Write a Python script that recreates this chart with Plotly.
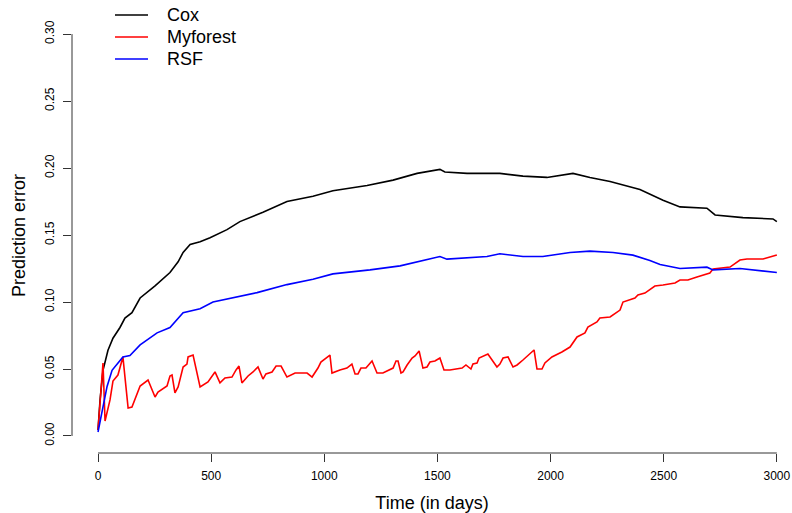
import plotly.graph_objects as go

# ---- data ----
cox_days = [0, 9, 22, 44, 66, 97, 119, 150, 186, 252, 318, 354, 376, 407, 451, 495, 570, 627,
            729, 835, 950, 1038, 1189, 1304, 1410, 1511, 1533, 1631, 1776, 1878, 1984, 2099,
            2174, 2263, 2395, 2497, 2572, 2691, 2727, 2850, 2983, 3000]
cox_err = [0.0045, 0.027, 0.049, 0.064, 0.073, 0.081, 0.088, 0.092, 0.103, 0.112, 0.122, 0.130,
           0.137, 0.143, 0.145, 0.148, 0.154, 0.160, 0.167, 0.175, 0.179, 0.183, 0.187, 0.191,
           0.196, 0.199, 0.197, 0.196, 0.196, 0.194, 0.193, 0.196, 0.193, 0.190, 0.184, 0.176,
           0.171, 0.170, 0.165, 0.163, 0.162, 0.160]

rsf_days = [0, 18, 40, 62, 84, 110, 141, 186, 261, 318, 376, 451, 508, 597, 703, 835, 950, 1038,
            1202, 1335, 1454, 1511, 1542, 1657, 1719, 1776, 1878, 1966, 2086, 2174, 2276, 2364,
            2439, 2484, 2572, 2691, 2718, 2837, 3000]
rsf_err = [0.003, 0.019, 0.037, 0.049, 0.054, 0.059, 0.060, 0.068, 0.077, 0.081, 0.092, 0.095,
           0.100, 0.103, 0.107, 0.113, 0.117, 0.121, 0.124, 0.127, 0.132, 0.134, 0.132, 0.133,
           0.134, 0.136, 0.134, 0.134, 0.137, 0.138, 0.137, 0.135, 0.131, 0.128, 0.125, 0.126,
           0.124, 0.125, 0.122]

myf_days = [0, 9, 22, 31, 53, 66, 88, 110, 133, 150, 186, 221, 252, 265, 305, 318, 327, 340, 354,
            376, 393, 398, 420, 451, 486, 517, 539, 561, 592, 610, 623, 636, 663, 685, 707, 729,
            742, 769, 787, 809, 835, 871, 924, 946, 972, 985, 1003, 1025, 1034, 1069, 1100, 1122,
            1136, 1149, 1162, 1184, 1211, 1233, 1259, 1277, 1304, 1317, 1326, 1339, 1348, 1366,
            1388, 1401, 1419, 1436, 1454, 1467, 1489, 1511, 1529, 1555, 1609, 1626, 1648, 1657,
            1675, 1684, 1710, 1723, 1763, 1776, 1790, 1812, 1834, 1852, 1878, 1927, 1940, 1962,
            1975, 2006, 2050, 2086, 2117, 2152, 2165, 2205, 2218, 2263, 2307, 2320, 2373, 2386,
            2417, 2439, 2461, 2497, 2550, 2572, 2607, 2647, 2674, 2704, 2718, 2793, 2837, 2868,
            2939, 3000]
myf_err = [0.0045, 0.0246, 0.0545, 0.0112, 0.0269, 0.0410, 0.0455, 0.0590, 0.0209, 0.0216,
           0.0373, 0.0418, 0.0291, 0.0328, 0.0373, 0.0448, 0.0455, 0.0321, 0.0366, 0.0515,
           0.0537, 0.0590, 0.0604, 0.0366, 0.0403, 0.0478, 0.0396, 0.0433, 0.0440, 0.0493,
           0.0522, 0.0396, 0.0448, 0.0478, 0.0515, 0.0425, 0.0463, 0.0478, 0.0522, 0.0522,
           0.0440, 0.0470, 0.0470, 0.0440, 0.0507, 0.0552, 0.0575, 0.0604, 0.0470, 0.0493,
           0.0507, 0.0537, 0.0463, 0.0463, 0.0507, 0.0507, 0.0560, 0.0470, 0.0470, 0.0485,
           0.0507, 0.0560, 0.0560, 0.0470, 0.0478, 0.0530, 0.0582, 0.0597, 0.0634, 0.0507,
           0.0515, 0.0552, 0.0560, 0.0582, 0.0493, 0.0493, 0.0507, 0.0530, 0.0500, 0.0537,
           0.0545, 0.0582, 0.0604, 0.0612, 0.0515, 0.0537, 0.0582, 0.0590, 0.0515, 0.0530,
           0.0567, 0.0642, 0.0500, 0.0500, 0.0545, 0.0590, 0.0627, 0.0664, 0.0739, 0.0769,
           0.0813, 0.0851, 0.0881, 0.0888, 0.0940, 0.1000, 0.1030, 0.1052, 0.1067, 0.1090,
           0.1119, 0.1127, 0.1142, 0.1164, 0.1164, 0.1187, 0.1201, 0.1216, 0.1246, 0.1261,
           0.1313, 0.1321, 0.1321, 0.1351]

x_ticks = [0, 500, 1000, 1500, 2000, 2500, 3000]
y_ticks = [0.00, 0.05, 0.10, 0.15, 0.20, 0.25, 0.30]
y_tick_text = ["0.00", "0.05", "0.10", "0.15", "0.20", "0.25", "0.30"]

series_names = ["Cox", "Myforest", "RSF"]
series_colors = ["#000000", "#ff0000", "#0000ff"]

FONT = "Liberation Sans, Arial, Helvetica, sans-serif"
AXC = "#333333"

fig = go.Figure()
for name, xs, ys, col in [("Cox", cox_days, cox_err, series_colors[0]),
                          ("Myforest", myf_days, myf_err, series_colors[1]),
                          ("RSF", rsf_days, rsf_err, series_colors[2])]:
    fig.add_trace(go.Scatter(x=xs, y=ys, mode="lines", name=name,
                             line=dict(color=col, width=1.6), showlegend=False))

# R-style detached axis lines
shapes = [
    dict(type="line", xref="x", yref="paper", x0=x_ticks[0], x1=x_ticks[-1], y0=0, y1=0,
         line=dict(color=AXC, width=1)),
    dict(type="line", xref="paper", yref="y", x0=0, x1=0, y0=y_ticks[0], y1=y_ticks[-1],
         line=dict(color=AXC, width=1)),
]

# legend drawn R-style (lines + text)
annotations = []
leg_y = [1.0069, 0.9563, 0.9057]
for name, col, yy in zip(series_names, series_colors, leg_y):
    shapes.append(dict(type="line", xref="paper", yref="paper", x0=0.0597, x1=0.1056,
                       y0=yy, y1=yy, line=dict(color=col, width=1.6)))
    annotations.append(dict(xref="paper", yref="paper", x=0.129, y=yy, text=name,
                            showarrow=False, xanchor="left", yanchor="middle",
                            font=dict(family=FONT, size=18, color="#000000")))

fig.update_layout(
    width=792, height=513,
    margin=dict(l=72, r=0, t=18, b=60),
    paper_bgcolor="white", plot_bgcolor="white",
    font=dict(family=FONT, color="#000000"),
    shapes=shapes, annotations=annotations,
    xaxis=dict(range=[-115, 3067], tickvals=x_ticks, ticks="outside", ticklen=8,
               tickwidth=1, tickcolor=AXC, showgrid=False, zeroline=False, showline=False,
               tickfont=dict(family=FONT, size=12), automargin=False,
               ticklabelstandoff=4,
               title=dict(text="Time (in days)", font=dict(family=FONT, size=18), standoff=13)),
    yaxis=dict(range=[-0.0127, 0.312], tickvals=y_ticks, ticktext=y_tick_text,
               ticks="outside", ticklen=8, tickwidth=1, tickcolor=AXC, tickangle=-90,
               showgrid=False, zeroline=False, showline=False,
               tickfont=dict(family=FONT, size=12), automargin=False,
               ticklabelstandoff=4,
               title=dict(text="Prediction error", font=dict(family=FONT, size=18), standoff=12)),
)

fig.write_html("out.html")
